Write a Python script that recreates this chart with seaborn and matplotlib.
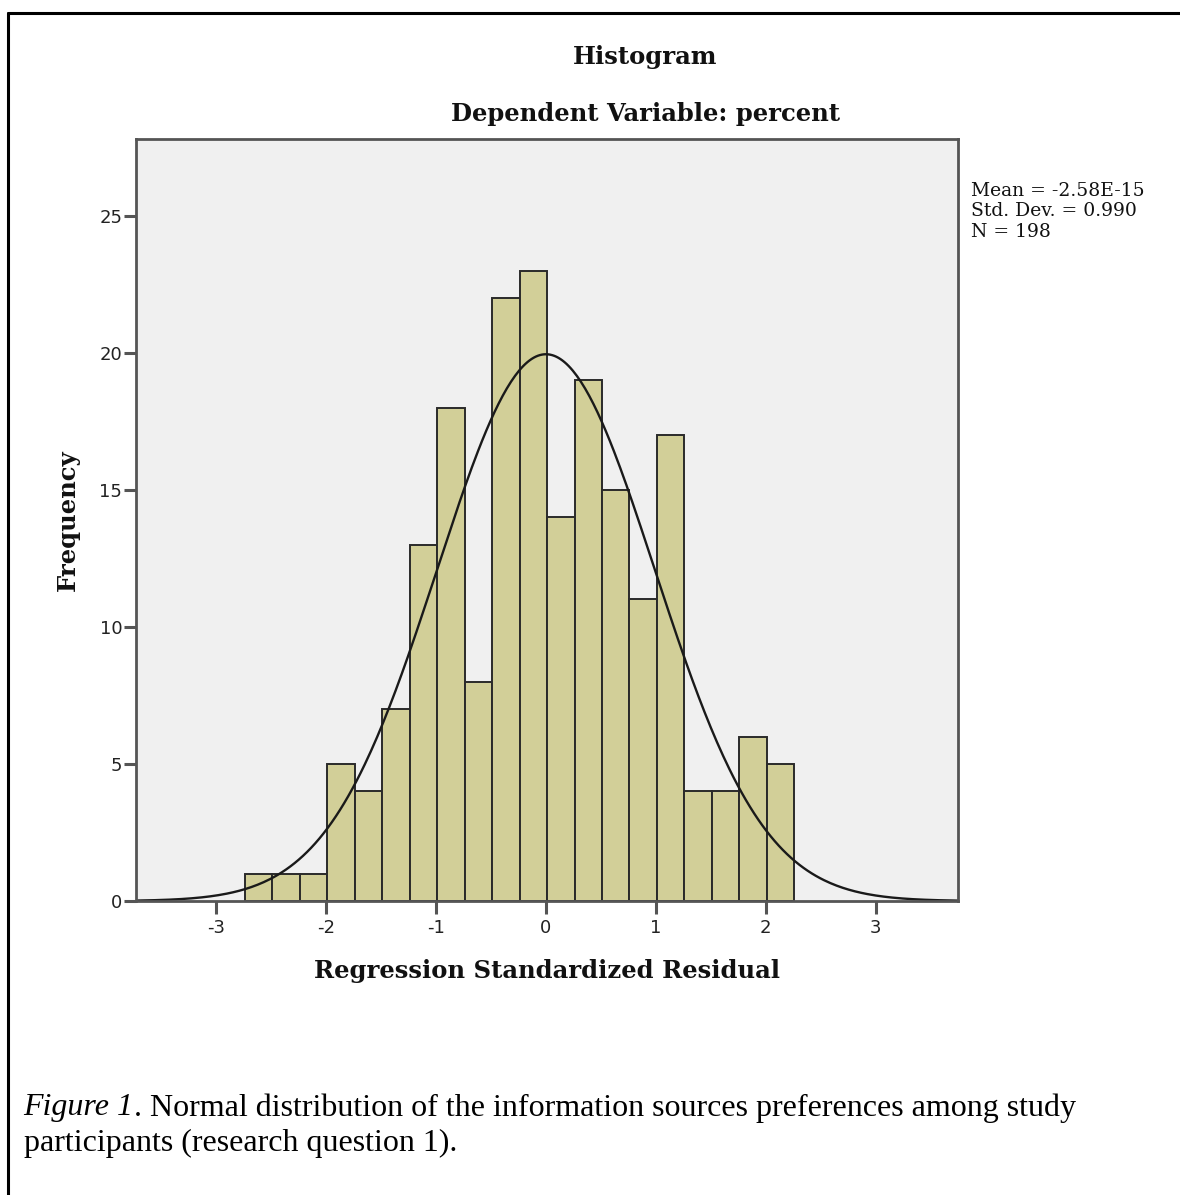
import numpy as np
import pandas as pd
import matplotlib
matplotlib.use("Agg")
import matplotlib.pyplot as plt
import seaborn as sns
from matplotlib.lines import Line2D

# histogram counts (bin width 0.25)
bin_left = [-2.74, -2.49, -2.24, -1.99, -1.74, -1.49, -1.24, -0.99, -0.74, -0.49,
            -0.24, 0.01, 0.26, 0.51, 0.76, 1.01, 1.26, 1.51, 1.76, 2.01]
counts = [1, 1, 1, 5, 4, 7, 13, 18, 8, 22, 23, 14, 19, 15, 11, 17, 4, 4, 6, 5]
bin_width = 0.25

# summary stats shown on the chart
mean_label = "-2.58E-15"
mean_val = -2.58e-15
std_val = 0.990
n_val = 198

sns.set_style("white")
plt.rcParams['font.family'] = ['Liberation Serif', 'DejaVu Serif']

fig = plt.figure(figsize=(11.8, 11.95), dpi=100)
ax = fig.add_axes([0.1153, 0.2460, 0.6966, 0.6377])
ax.set_facecolor("#F0F0F0")

df = pd.DataFrame({"center": np.array(bin_left) + bin_width / 2, "count": counts})
edges = list(bin_left) + [bin_left[-1] + bin_width]
sns.histplot(data=df, x="center", weights="count", bins=edges, ax=ax,
             color="#D2CF98", alpha=1, edgecolor="#2a2a2a", linewidth=1.4)

# fitted normal curve
xs = np.linspace(-3.73, 3.75, 400)
ys = n_val * bin_width / (std_val * np.sqrt(2 * np.pi)) * np.exp(-0.5 * ((xs - mean_val) / std_val) ** 2)
sns.lineplot(x=xs, y=ys, ax=ax, color="#1a1a1a", linewidth=1.7)

ax.set_xlim(-3.73, 3.75)
ax.set_ylim(0, 27.8)
ax.set_xticks([-3, -2, -1, 0, 1, 2, 3])
ax.set_xticklabels(["-3", "-2", "-1", "0", "1", "2", "3"])
ax.set_yticks([0, 5, 10, 15, 20, 25])
ax.tick_params(axis="both", bottom=True, left=True, direction="out", length=9, width=2.2,
               color="#555555", labelsize=13, labelcolor="#222222")
ax.tick_params(axis="x", pad=4)
ax.tick_params(axis="y", pad=1)
for lab in ax.get_xticklabels() + ax.get_yticklabels():
    lab.set_family("DejaVu Sans")
for sp in ax.spines.values():
    sp.set_color("#555555")
    sp.set_linewidth(2)

lab_font = dict(family="DejaVu Serif", fontsize=17.5, fontweight="bold", color="#111111")
ax.set_xlabel("Regression Standardized Residual", labelpad=16, **lab_font)
ax.set_ylabel("Frequency", labelpad=14, **lab_font)

fig.text(0.547, 0.952, "Histogram", ha="center", va="center", **lab_font)
fig.text(0.547, 0.905, "Dependent Variable: percent", ha="center", va="center", **lab_font)

fig.text(0.823, 0.848,
         f"Mean = {mean_label}\nStd. Dev. = {std_val:.3f}\nN = {n_val}",
         ha="left", va="top", family="DejaVu Serif", fontsize=13.5, linespacing=1.2,
         color="#111111")

# caption: italic lead-in, then the rest placed right after it
cap_size = 23
cap = fig.text(0.020, 0.073, "Figure 1", ha="left", va="center", fontsize=cap_size,
               style="italic", color="black")
fig.canvas.draw()
bb = cap.get_window_extent(renderer=fig.canvas.get_renderer())
x_after = bb.x1 / fig.bbox.width
fig.text(x_after, 0.073,
         ". Normal distribution of the information sources preferences among study",
         ha="left", va="center", fontsize=cap_size, color="black")
fig.text(0.020, 0.043, "participants (research question 1).", ha="left", va="center",
         fontsize=cap_size, color="black")

# page border (top and left edges)
fig.add_artist(Line2D([0.0068, 1.0], [0.989, 0.989], transform=fig.transFigure, color="black", linewidth=2.2))
fig.add_artist(Line2D([0.0068, 0.0068], [0.0, 0.989], transform=fig.transFigure, color="black", linewidth=2.2))

fig.savefig("out.png", dpi=100, facecolor="white")
